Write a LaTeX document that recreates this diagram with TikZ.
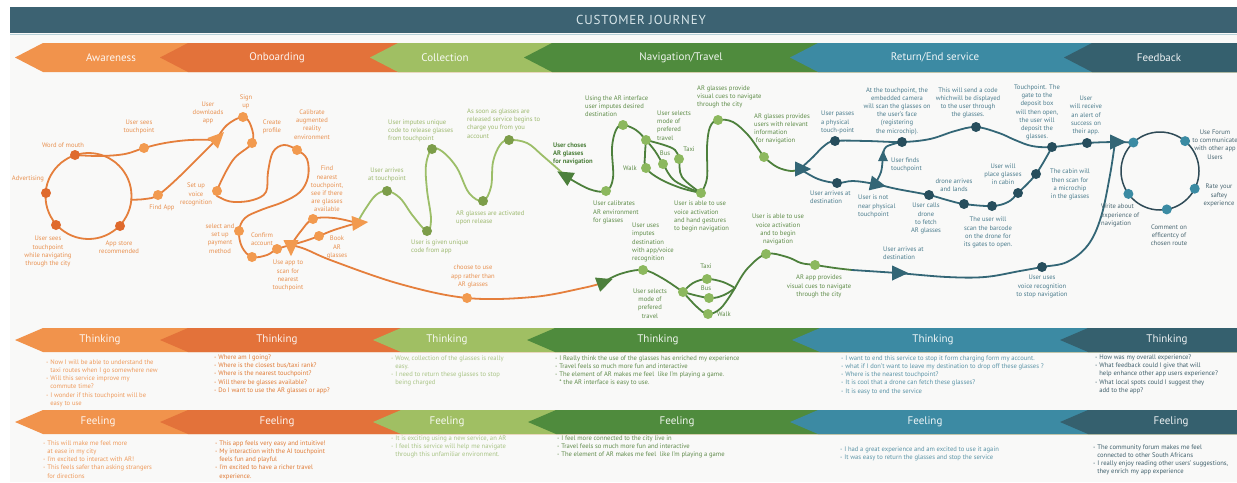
\documentclass[tikz,border=0pt]{standalone}
\usepackage{fontspec}
\setmainfont{PT Sans}
\usetikzlibrary{shapes.geometric}
\pgfdeclarelayer{back}
\pgfdeclarelayer{paths}
\pgfsetlayers{back,paths,main}
% band colours
\definecolor{titlebar}{HTML}{3C6272}
\definecolor{titletxt}{HTML}{D8E6EA}
\definecolor{titleline}{HTML}{B7D1D8}
\definecolor{panel}{HTML}{F9F9F8}
\definecolor{awa}{HTML}{F1934C}
\definecolor{onb}{HTML}{E3723A}
\definecolor{col}{HTML}{A0BF63}
\definecolor{nav}{HTML}{4F8B3D}
\definecolor{ret}{HTML}{3C8AA3}
\definecolor{fdb}{HTML}{35606E}
% journey path colours
\definecolor{orline}{HTML}{E57F3C}
\definecolor{ordot}{HTML}{F29A4F}
\definecolor{ordark}{HTML}{DF6A2D}
\definecolor{ortext}{HTML}{E8904F}
\definecolor{lgline}{HTML}{9CBE68}
\definecolor{lgdot}{HTML}{7C9D49}
\definecolor{lgtext}{HTML}{9DB96F}
\definecolor{dgline}{HTML}{4D803C}
\definecolor{dgdot}{HTML}{8CB85E}
\definecolor{dgtext}{HTML}{5E8C48}
\definecolor{tlline}{HTML}{336676}
\definecolor{tldot}{HTML}{274E5D}
\definecolor{tltext}{HTML}{4B7C8D}
\definecolor{fbline}{HTML}{2F4B57}
\definecolor{fbdot}{HTML}{3B8BA3}
\definecolor{fbtext}{HTML}{4A6772}
% row text colours
\definecolor{rawa}{HTML}{EE9A5C}
\definecolor{ronb}{HTML}{E07A35}
\definecolor{rcol}{HTML}{A9C486}
\definecolor{rnav}{HTML}{5F8A4A}
\definecolor{rret}{HTML}{5A93A6}
\definecolor{rfdb}{HTML}{3F5F6B}

% chevron band: tip x, top y, bottom y, colour
\newcommand\chevband[4]{%
  \fill[#4] (#1,{(#2+#3)/2}) -- ({#1+28},#2) -- (1237,#2) -- (1237,#3) -- ({#1+28},#3) -- cycle;}

\newcommand\smalltxt{\fontsize{6.6}{8.2}\selectfont}
\tikzset{
  jdot/.style={circle, fill=#1, inner sep=0pt, minimum size=10pt},
  jline/.style={draw=#1, line width=1.8pt, line cap=round, line join=round},
  jtri/.style={isosceles triangle, isosceles triangle stretches, fill=#1, inner sep=0pt,
               minimum width=15pt, minimum height=16pt},
  jlbl/.style={text=#1, font=\smalltxt, align=center, inner sep=0pt},
  jlbw/.style={text=#1, font=\smalltxt, align=left, inner sep=0pt, anchor=west},
  bandlbl/.style={text=white, font=\fontsize{11}{12}\selectfont, inner sep=0pt, opacity=0.92},
  rowtxt/.style={text=#1, font=\smalltxt, align=left, inner sep=0pt, anchor=north west},
}
\newcommand\ind{\hphantom{- }}

\begin{document}
\begin{tikzpicture}[x=1pt,y=-1pt]
\useasboundingbox (0,0) rectangle (1237,482);

\begin{pgfonlayer}{back}
  \fill[white] (0,0) rectangle (1237,482);
  \fill[panel] (10,33) rectangle (1237,482);
  \fill[titlebar] (10,7) rectangle (1237,33);
  \draw[titleline, line width=1.5pt] (10,34.5) -- (1237,34.5);
  % phase row
  \chevband{15}{43}{72}{awa}
  \chevband{160}{43}{72}{onb}
  \chevband{370}{43}{72}{col}
  \chevband{524}{43}{72}{nav}
  \chevband{790}{43}{72}{ret}
  \chevband{1064}{43}{72}{fdb}
  % thinking row
  \chevband{15}{328}{352}{awa}
  \chevband{160}{328}{352}{onb}
  \chevband{373}{328}{352}{col}
  \chevband{527}{328}{352}{nav}
  \chevband{792}{328}{352}{ret}
  \chevband{1060}{328}{352}{fdb}
  % feeling row
  \chevband{15}{410}{434}{awa}
  \chevband{160}{410}{434}{onb}
  \chevband{373}{410}{434}{col}
  \chevband{528}{410}{434}{nav}
  \chevband{790}{410}{434}{ret}
  \chevband{1060}{410}{434}{fdb}
\end{pgfonlayer}

\node[text=titletxt, font=\fontsize{13}{15}\selectfont\addfontfeatures{LetterSpace=6}] (title) at (641,20) {CUSTOMER JOURNEY};

% phase names
\node[bandlbl] (ph-awa) at (111,57.5) {Awareness};
\node[bandlbl] (ph-onb) at (277,57.5) {Onboarding};
\node[bandlbl] (ph-col) at (445,57.5) {Collection};
\node[bandlbl] (ph-nav) at (681,57.5) {Navigation/Travel};
\node[bandlbl] (ph-ret) at (935,57.5) {Return/End service};
\node[bandlbl] (ph-fdb) at (1159,57.5) {Feedback};

\foreach \x/\n in {100/awa,277/onb,447/col,658/nav,933/ret,1167/fdb}
  \node[bandlbl] (th-\n) at (\x,340) {Thinking};
\foreach \x/\n in {98/awa,277/onb,447/col,677/nav,925/ret,1171/fdb}
  \node[bandlbl] (fe-\n) at (\x,422) {Feeling};

% ---------------- Awareness ----------------
\node[jdot=ordark] (aw-wom) at (75,155) {};
\node[jdot=ordark] (aw-adv) at (46,193) {};
\node[jdot=ordark] (aw-see) at (56,225) {};
\node[jdot=ordark] (aw-store) at (120,226) {};
\node[jdot=ordot] (aw-tp) at (144,148) {};
\node[jdot=ordot] (aw-find) at (158,195) {};
\coordinate (aw-c) at (88.5,196);
\coordinate (aw-out) at (131.3,199.7);
\node[jtri=ordot, rotate=45] (ar-a) at (216,140) {};

\node[jlbl=ortext] (l-wom) at (63,145) {Word of mouth};
\node[jlbl=ortext] (l-adv) at (28,179) {Advertising};
\node[jlbl=ortext] (l-see) at (48,251.5) {User sees\\touchpoint\\while navigating\\through the city};
\node[jlbl=ortext] (l-store) at (119,247) {App store\\recommended};
\node[jlbl=ortext] (l-tp) at (139,127) {User sees\\touchpoint};
\node[jlbl=ortext] (l-find) at (162,208) {Find App};
\node[jlbl=ortext] (l-dl) at (208,113) {User\\downloads\\app};

% ---------------- Onboarding ----------------
\node[jdot=ordot] (ob-signup) at (243,117) {};
\node[jdot=ordot] (ob-create) at (252,143) {};
\node[jdot=ordot] (ob-setup) at (217,191) {};
\node[jdot=ordot] (ob-calib) at (297,150) {};
\node[jdot=ordot] (ob-pay) at (239,231) {};
\node[jdot=ordot] (ob-pay2) at (252,257) {};
\node[jdot=ordot] (ob-confirm) at (277,249) {};
\node[jtri=ordot, rotate=-90] (ar-b) at (291,245) {};
\node[jdot=ordot] (ob-find) at (313,219) {};
\node[jdot=ordot] (ob-book) at (319,236) {};
\node[jtri=ordot, rotate=5] (ar-c) at (357,223) {};
\node[jdot=ordot] (ob-choose) at (467,298) {};

\node[jlbl=ortext] (l-signup) at (246,102) {Sign\\up};
\node[jlbl=ortext] (l-create) at (272,127) {Create\\profile};
\node[jlbl=ortext] (l-calib) at (312,124.5) {Calibrate\\augmented\\reality\\environment};
\node[jlbl=ortext] (l-setup) at (196,194.5) {Set up\\voice\\recognition};
\node[jlbl=ortext] (l-pay) at (220,238.5) {select and\\set up\\payment\\method};
\node[jlbl=ortext] (l-confirm) at (262,239) {Confirm\\account};
\node[jlbl=ortext] (l-scan) at (288,275.5) {Use app to\\scan for\\nearest\\touchpoint};
\node[jlbl=ortext] (l-near) at (327,189) {Find\\nearest\\touchpoint,\\see if there\\are glasses\\available};
\node[jlbl=ortext] (l-book) at (337,247.5) {Book\\AR\\glasses};
\node[jlbl=ortext] (l-choose) at (473,276.5) {choose to use\\app rather than\\AR glasses};

% ---------------- Collection ----------------
\node[jdot=lgdot] (co-arr) at (387,191) {};
\node[jdot=lgdot] (co-given) at (427,231) {};
\node[jdot=lgdot] (co-imp) at (432,149) {};
\node[jdot=lgdot] (co-act) at (483,201) {};
\node[jdot=lgdot] (co-soon) at (509,140) {};
\node[jtri=dgline, rotate=150] (ar-d) at (567,177) {};

\node[jlbl=lgtext] (l-arr) at (387,175) {User arrives\\at touchpoint};
\node[jlbw=lgtext] (l-imp) at (388,131) {User imputes unique\\code to release glasses\\from touchpoint};
\node[jlbw=lgtext] (l-given) at (411,247) {User is given unique\\code from app};
\node[jlbw=lgtext] (l-act) at (456,218) {AR glasses are activated\\upon release};
\node[jlbw=lgtext] (l-soon) at (467,123.5) {As soon as glasses are\\released service begins to\\charge you from you\\account};

% ---------------- Navigation (glasses) ----------------
\node[jdot=dgdot] (nv-cal) at (606,191) {};
\node[jdot=dgdot] (nv-int) at (623,125) {};
\node[jdot=dgdot] (nv-sel) at (646,140) {};
\node[jdot=dgdot] (nv-walk) at (646,168) {};
\node[jdot=dgdot] (nv-bus) at (663,164) {};
\node[jdot=dgdot] (nv-taxi) at (679,159) {};
\node[jdot=dgdot] (nv-able) at (701,193) {};
\node[jdot=dgdot] (nv-cues) at (718,120) {};
\node[jdot=dgdot] (nv-info) at (764,157) {};
\node[jtri=tlline, rotate=0] (ar-f) at (800,169) {};

\node[jlbw=dgline, font=\smalltxt\bfseries] (l-choses) at (553,154) {User choses\\AR glasses\\for navigation};
\node[jlbw=dgtext] (l-int) at (585,106) {Using the AR interface\\user imputes desired\\destination};
\node[jlbw=dgtext] (l-sel) at (657,125.5) {User selects\\mode of\\prefered\\travel};
\node[jlbl=dgtext] (l-walk) at (630,168) {Walk};
\node[jlbl=dgtext] (l-bus) at (665,153) {Bus};
\node[jlbl=dgtext] (l-taxi) at (689,149) {Taxi};
\node[jlbw=dgtext] (l-cal) at (593,212.5) {User calibrates\\AR environment\\for glasses};
\node[jlbw=dgtext] (l-able) at (674,216.5) {User is able to use\\voice activation\\and hand gestures\\to begin navigation};
\node[jlbw=dgtext] (l-cues) at (697,97) {AR glasses provide\\visual cues to navigate\\through the city};
\node[jlbw=dgtext] (l-info) at (754,129) {AR glasses provides\\users with relevant\\information\\\ for navigation};

% ---------------- Navigation (app) ----------------
\node[jtri=dgline, rotate=20] (ar-e) at (602,283) {};
\node[jdot=dgdot] (nl-uses) at (643,270) {};
\node[jdot=dgdot] (nl-sel) at (683,292) {};
\node[jdot=dgdot] (nl-taxi) at (707,279) {};
\node[jdot=dgdot] (nl-bus) at (709,298) {};
\node[jdot=dgdot] (nl-walk) at (708,314) {};
\coordinate (nl-join) at (735,288);
\node[jdot=dgdot] (nl-able) at (766,254) {};
\node[jdot=dgdot] (nl-cues) at (815,265) {};
\coordinate (nl-mix) at (852,270);

\node[jlbw=dgtext] (l-uses) at (632,242.5) {User uses\\imputes\\destination\\with app/voice\\recognition};
\node[jlbl=dgtext] (l-lsel) at (650,303.5) {User selects\\mode of\\prefered\\travel};
\node[jlbl=dgtext] (l-ltaxi) at (706,266) {Taxi};
\node[jlbl=dgtext] (l-lbus) at (706,288) {Bus};
\node[jlbl=dgtext] (l-lwalk) at (724,314) {Walk};
\node[jlbl=dgtext] (l-lable) at (778,229.5) {User is able to use\\voice activation\\and to begin\\navigation};
\node[jlbl=dgtext] (l-lcues) at (819,286.5) {AR app provides\\visual cues to navigate\\through the city};

% ---------------- Return / End service ----------------
\node[jdot=tldot] (rt-pass) at (835,141) {};
\node[jdot=tldot] (rt-cam) at (902,142) {};
\node[jdot=tldot] (rt-send) at (976,127) {};
\node[jdot=tldot] (rt-dep) at (1052,147) {};
\node[jdot=tldot] (rt-alert) at (1087,143) {};
\node[jtri=tlline, rotate=0] (ar-j) at (1115,142) {};
\node[jdot=tldot] (rt-arr) at (837,183) {};
\node[jtri=tlline, rotate=-12] (ar-g) at (875,184) {};
\node[jtri=tlline, rotate=90, minimum width=10pt, minimum height=11pt] (ar-h) at (883,158) {};
\node[jdot=tldot] (rt-calls) at (929,195) {};
\node[jdot=tldot] (rt-lands) at (964,204) {};
\node[jdot=tldot] (rt-scan) at (992,206) {};
\node[jdot=tldot] (rt-place) at (1018,193) {};
\node[jdot=tldot] (rt-cabin) at (1036,174) {};
\node[jtri=tlline, rotate=0] (ar-i) at (897,273) {};
\node[jdot=tldot] (rt-voice) at (1042,267) {};

\node[jlbw=tltext] (l-pass) at (821,122.5) {User passes\\a physical\\touch-point};
\node[jlbl=tltext] (l-cam) at (897,111) {At the touchpoint, the\\embedded camera\\will scan the glasses on\\the user’s face\\(registering\\the microchip).};
\node[jlbl=tltext] (l-send) at (968,103) {This will send a code\\whichwill be displayed\\to the user through\\the glasses.};
\node[jlbw=tltext] (l-finds) at (891,165) {User finds\\touchpoint};
\node[jlbw=tltext] (l-rarr) at (810,197.5) {User arrives at\\destination};
\node[jlbw=tltext] (l-not) at (858,206.5) {User is not\\near physical\\touchpoint};
\node[jlbl=tltext] (l-calls) at (926,218.5) {User calls\\drone\\to fetch\\AR glasses};
\node[jlbl=tltext] (l-lands) at (954,185) {drone arrives\\and lands};
\node[jlbl=tltext] (l-scan2) at (988,232.5) {The user will\\scan the barcode\\on the drone for\\its gates to open.};
\node[jlbl=tltext] (l-place) at (1003,174) {User will\\place glasses\\in cabin};
\node[jlbl=tltext] (l-cabin) at (1070,184.5) {The cabin will\\then scan for\\a microchip\\in the glasses};
\node[jlbl=tltext] (l-dep) at (1037,112.5) {Touchpoint. The\\gate to the\\deposit box\\will then open,\\the user will\\deposit the\\glasses.};
\node[jlbl=tltext] (l-alert) at (1086,115.5) {User\\will receive\\an alert of\\success on\\their app.};
\node[jlbw=tltext] (l-barr) at (883,253) {User arrives at\\destination};
\node[jlbl=tltext] (l-voice) at (1042,286.5) {User uses\\voice recognition\\to stop navigation};

% ---------------- Feedback ----------------
\coordinate (fb-c) at (1160,171);
\node[jdot=fbdot] (fb-1) at (1133.4,142.5) {};
\node[jdot=fbdot] (fb-2) at (1185.1,141.1) {};
\node[jdot=fbdot] (fb-3) at (1194.7,188.7) {};
\node[jdot=fbdot] (fb-4) at (1166.8,209.4) {};
\node[jdot=fbdot] (fb-5) at (1128.4,193.9) {};

\node[jlbl=fbtext] (l-forum) at (1215,144.5) {Use Forum\\to communicate\\with other app\\Users};
\node[jlbl=fbtext] (l-rate) at (1219,195.5) {Rate your\\saftey\\experience};
\node[jlbl=fbtext] (l-comment) at (1169,235) {Comment on\\efficentcy of\\chosen route};
\node[jlbw=fbtext] (l-write) at (1101,215.5) {Write about\\experience of\\navigation};

% ---------------- Thinking / Feeling texts ----------------
\node[rowtxt=rawa] (tt-awa) at (46,359.5) {- Now I will be able to understand the\\\ind taxi routes when I go somewhere new\\- Will this service improve my\\\ind commute time?\\- I wonder if this touchpoint will be\\\ind easy to use};
\node[rowtxt=ronb] (tt-onb) at (214,354.5) {- Where am I going?\\- Where is the closest bus/taxi rank?\\- Where is the nearest touchpoint?\\- Will there be glasses available?\\- Do I want to use the AR glasses or app?};
\node[rowtxt=rcol] (tt-col) at (391,355.5) {- Wow, collection of the glasses is really\\\ind easy.\\- I need to return these glasses to stop\\\ind being charged};
\node[rowtxt=rnav] (tt-nav) at (555,355.5) {- I Really think the use of the glasses has enriched my experience\\- Travel feels so much more fun and interactive\\- The element of AR makes me feel\ \ like I’m playing a game.\\\ind * the AR interface is easy to use.};
\node[rowtxt=rret] (tt-ret) at (841,355.5) {- I want to end this service to stop it form charging form my account.\\- what if I don’t want to leave my destination to drop off these glasses ?\\- Where is the nearest touchpoint?\\- It is cool that a drone can fetch these glasses?\\- It is easy to end the service};
\node[rowtxt=rfdb] (tt-fdb) at (1095,354.5) {- How was my overall experience?\\- What feedback could I give that will\\\ind help enhance other app users experience?\\- What local spots could I suggest they\\\ind add to the app?};

\node[rowtxt=rawa] (ft-awa) at (43,440.5) {- This will make me feel more\\\ind at ease in my city\\- I’m excited to interact with AR!\\- This feels safer than asking strangers\\\ind for directions};
\node[rowtxt=ronb] (ft-onb) at (215,440.5) {- This app feels very easy and intuitive!\\- My interaction with the AI touchpoint\\\ind feels fun and playful\\- I’m excited to have a richer travel\\\ind experience.};
\node[rowtxt=rcol] (ft-col) at (391,435.5) {- It is exciting using a new service, an AR\\- I feel this service will help me navigate\\\ind through this unfamiliar environment.};
\node[rowtxt=rnav] (ft-nav) at (557,435.5) {- I feel more connected to the city live in\\- Travel feels so much more fun and interactive\\- The element of AR makes me feel\ \ like I’m playing a game};
\node[rowtxt=rret] (ft-ret) at (840,446.5) {- I had a great experience and am excited to use it again\\- It was easy to return the glasses and stop the service};
\node[rowtxt=rfdb] (ft-fdb) at (1093,444.5) {- The community forum makes me feel\\\ind connected to other South Africans\\- I really enjoy reading other users’ suggestions,\\\ind they enrich my app experience};

% ---------------- connectors ----------------
\begin{pgfonlayer}{paths}
  % awareness loop and its two exits
  \draw[jline=orline] (aw-c) circle[radius=43pt];
  \draw[jline=orline] plot[smooth, tension=0.6] coordinates {(aw-wom.center) (100,156) (125,154) (aw-tp.center) (165,143) (190,140) (ar-a.center)};
  \draw[jline=orline] plot[smooth, tension=0.6] coordinates {(aw-out) (145,199) (aw-find.center) (180,176) (ar-a.center)};
  % onboarding
  \draw[jline=orline] plot[smooth, tension=0.6] coordinates {(ar-a.center) (227,125) (ob-signup.center) (251,126) (ob-create.center) (233,160) (ob-setup.center) (221,198) (234,202) (253,200) (266,192) (268,172) (273,152) (284,145) (ob-calib.center) (307,159) (308,177) (300,192) (283,202) (261,210) (245,218) (ob-pay.center) (242,247) (ob-pay2.center) (267,255) (ob-confirm.center) (ar-b.center)};
  \draw[jline=orline] plot[smooth, tension=0.6] coordinates {(ar-b.center) (301,231) (ob-find.center) (334,218) (ar-c.center)};
  \draw[jline=orline] plot[smooth, tension=0.6] coordinates {(ar-b.center) (305,241) (ob-book.center) (334,230) (ar-c.center)};
  \draw[jline=orline] plot[smooth, tension=0.6] coordinates {(ar-b.center) (305,249) (333,261) (400,284) (ob-choose.center) (533,297) (583,288) (ar-e.center)};
  % collection
  \draw[jline=lgline] plot[smooth, tension=0.6] coordinates {(ar-c.center) (366,208) (376,195) (co-arr.center) (400,198) (413,216) (co-given.center) (431,219) (427,190) (426,165) (co-imp.center) (443,152) (457,168) (469,193) (co-act.center) (491,187) (493,162) (500,145) (co-soon.center) (527,143) (543,156) (ar-d.center)};
  % navigation with the glasses
  \draw[jline=dgline] plot[smooth, tension=0.6] coordinates {(ar-d.center) (589,189) (nv-cal.center) (613,178) (612,148) (616,130) (nv-int.center) (636,130) (nv-sel.center)};
  \draw[jline=dgline] plot[smooth, tension=0.6] coordinates {(nv-sel.center) (645,155) (nv-walk.center) (660,179) (681,188) (nv-able.center)};
  \draw[jline=dgline] plot[smooth, tension=0.6] coordinates {(nv-sel.center) (655,151) (nv-bus.center) (675,181) (nv-able.center)};
  \draw[jline=dgline] plot[smooth, tension=0.6] coordinates {(nv-sel.center) (664,145) (675,150) (nv-taxi.center) (682,177) (nv-able.center)};
  \draw[jline=dgline] plot[smooth, tension=0.6] coordinates {(nv-able.center) (707,178) (707,147) (710,127) (nv-cues.center) (733,122) (748,135) (759,150) (nv-info.center) (777,167) (791,171) (ar-f.center)};
  % navigation with the app
  \draw[jline=dgline] plot[smooth, tension=0.6] coordinates {(ar-e.center) (620,274) (nl-uses.center) (662,278) (nl-sel.center)};
  \draw[jline=dgline] plot[smooth, tension=0.6] coordinates {(nl-sel.center) (693,283) (nl-taxi.center) (723,282) (nl-join)};
  \draw[jline=dgline] plot[smooth, tension=0.6] coordinates {(nl-sel.center) (nl-bus.center) (724,295) (nl-join)};
  \draw[jline=dgline] plot[smooth, tension=0.6] coordinates {(nl-sel.center) (697,307) (nl-walk.center) (721,308) (nl-join)};
  \draw[jline=dgline] plot[smooth, tension=0.6] coordinates {(nl-join) (747,269) (nl-able.center) (787,257) (801,263) (nl-cues.center) (835,268) (nl-mix)};
  % return / end service
  \draw[jline=tlline] plot[smooth, tension=0.6] coordinates {(ar-f.center) (813,157) (824,146) (rt-pass.center) (867,141) (rt-cam.center) (930,139) (955,131) (rt-send.center) (999,133) (1015,140) (1032,146) (rt-dep.center) (rt-alert.center) (ar-j.center)};
  \draw[jline=tlline] plot[smooth, tension=0.6] coordinates {(ar-f.center) (818,179) (rt-arr.center) (853,181) (ar-g.center) (897,189) (rt-calls.center) (947,200) (rt-lands.center) (rt-scan.center) (1008,202) (rt-place.center) (rt-cabin.center) (rt-dep.center)};
  \draw[jline=tlline] plot[smooth, tension=0.6] coordinates {(ar-g.center) (881,172) (ar-h.center) (886,147) (rt-cam.center)};
  \draw[jline=tlline] plot[smooth, tension=0.6] coordinates {(nl-mix) (ar-i.center) (947,277) (985,277) (1020,271) (rt-voice.center) (1067,262) (1088,245) (1101,217) (1110,175) (ar-j.center)};
  % feedback loop
  \draw[jline=tlline] (ar-j.center) -- (fb-1.center);
  \draw[draw=fbline, line width=1.5pt] (fb-c) circle[radius=39pt];
\end{pgfonlayer}
\end{tikzpicture}
\end{document}
